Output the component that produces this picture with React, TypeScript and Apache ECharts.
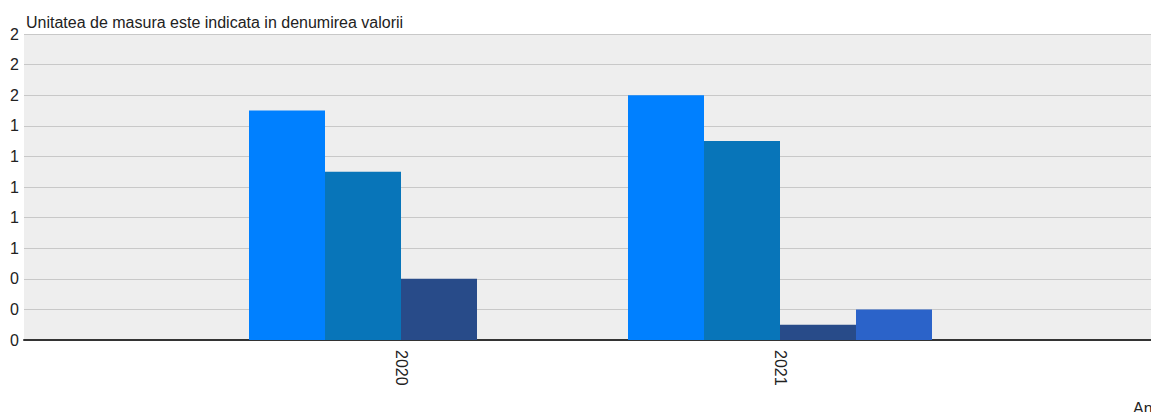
import React, { useEffect, useRef } from "react";
import * as echarts from "echarts";

const categories = ["2020", "2021"];
const seriesNames = ["Seria 1", "Seria 2", "Seria 3", "Seria 4"];
const seriesA = [1.5, 1.6];
const seriesB = [1.1, 1.3];
const seriesC = [0.4, 0.1];
const seriesD = [null, 0.2];
const colors = ["#0080ff", "#0875b9", "#284b89", "#2b63c9"];
const titleText = "Unitatea de masura este indicata in denumirea valorii";
const xAxisName = "Anul";

export default function App() {
  const ref = useRef<HTMLDivElement>(null);
  useEffect(() => {
    document.body.style.margin = "0";
    const chart = echarts.init(ref.current!, null, { renderer: "svg" });
    const font = "Liberation Sans, Arial, sans-serif";
    const values = [seriesA, seriesB, seriesC, seriesD];
    chart.setOption({
      animation: false,
      textStyle: { fontFamily: font },
      title: {
        text: titleText,
        left: 21,
        top: 9,
        textStyle: { fontSize: 16, fontWeight: "normal", color: "#222", fontFamily: font },
      },
      graphic: [
        {
          type: "text",
          left: 1133,
          top: 400,
          style: { text: xAxisName, fontSize: 16, fill: "#222", fontFamily: font },
        },
      ],
      grid: [
        { left: 24, right: 0, top: 34, bottom: 72, show: true, backgroundColor: "#eeeeee", borderWidth: 0 },
        { left: 211.5, width: 758, top: 34, bottom: 72 },
      ],
      xAxis: [
        {
          gridIndex: 0,
          type: "value",
          min: 0,
          max: 1,
          axisLine: { show: true, lineStyle: { color: "#333", width: 2 } },
          axisTick: { show: false },
          axisLabel: { show: false },
          splitLine: { show: false },
        },
        {
          gridIndex: 1,
          type: "category",
          data: categories,
          axisLine: { show: false },
          axisTick: { show: false },
          axisLabel: { rotate: -90, margin: 10, fontSize: 16, color: "#222", fontFamily: font },
        },
      ],
      yAxis: [
        {
          gridIndex: 0,
          type: "value",
          min: 0,
          max: 2,
          interval: 0.2,
          axisLine: { show: false },
          axisTick: { show: false },
          axisLabel: {
            margin: 5,
            fontSize: 16,
            color: "#222",
            fontFamily: font,
            formatter: (v: number) => v.toFixed(0),
          },
          splitLine: { lineStyle: { color: "#c8c8c8", width: 1 } },
        },
        {
          gridIndex: 1,
          type: "value",
          min: 0,
          max: 2,
          show: false,
          splitLine: { show: false },
        },
      ],
      series: values.map((d, i) => ({
        name: seriesNames[i],
        type: "bar",
        xAxisIndex: 1,
        yAxisIndex: 1,
        data: d,
        barWidth: 76,
        barGap: "0%",
        itemStyle: { color: colors[i] },
      })),
    });
    return () => chart.dispose();
  }, []);
  return <div ref={ref} style={{ width: 1151, height: 412 }} />;
}
